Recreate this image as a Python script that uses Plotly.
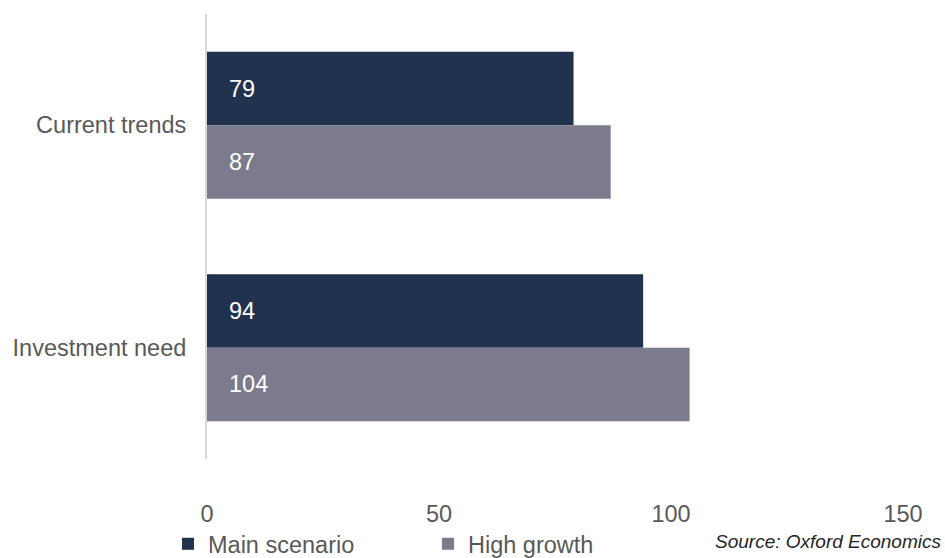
import plotly.graph_objects as go

categories = ["Current trends", "Investment need"]
main_scenario = [79, 94]
high_growth = [87, 104]
x_ticks = [0, 50, 100, 150]

NAVY = "#21324f"
GREY = "#7b7b8d"
TEXT = "#595959"
FONT = "Liberation Sans, Arial, sans-serif"
FS = 23.5

fig = go.Figure()
fig.add_trace(go.Bar(y=categories, x=main_scenario, orientation="h", name="Main scenario",
                     marker=dict(color=NAVY, line=dict(width=0))))
fig.add_trace(go.Bar(y=categories, x=high_growth, orientation="h", name="High growth",
                     marker=dict(color=GREY, line=dict(width=0))))

half = 0.33 / 2
annotations = []
for i, cat in enumerate(categories):
    for val, off in ((main_scenario[i], -half), (high_growth[i], half)):
        annotations.append(dict(x=0, y=i + off, xref="x", yref="y", text=str(val),
                                showarrow=False, xanchor="left", yanchor="middle", xshift=20,
                                font=dict(family=FONT, size=FS, color="white")))
annotations.append(dict(x=(943 - 207) / 696, y=-(541 - 459) / 445, xref="paper", yref="paper",
                        text="<i>Source: Oxford Economics</i>", showarrow=False,
                        xanchor="right", yanchor="middle",
                        font=dict(family=FONT, size=19, color="#262626")))

fig.update_layout(
    width=945, height=558,
    margin=dict(l=207, r=42, t=14, b=99, autoexpand=False),
    paper_bgcolor="white", plot_bgcolor="white",
    barmode="group", bargap=0.34, bargroupgap=0,
    font=dict(family=FONT, size=FS, color=TEXT),
    xaxis=dict(range=[0, 150], tickvals=x_ticks, showgrid=False, zeroline=False,
               showline=False, ticks="", ticklabelstandoff=38,
               tickfont=dict(size=FS, color=TEXT)),
    yaxis=dict(autorange="reversed", showgrid=False, zeroline=False,
               showline=True, linecolor="#d9d9d9", linewidth=2, ticks="",
               ticklabelstandoff=14, tickfont=dict(size=FS, color=TEXT)),
    legend=dict(orientation="h", xref="container", yref="container",
                x=168 / 945, y=(558 - 544) / 558, xanchor="left", yanchor="middle",
                font=dict(size=FS, color=TEXT), entrywidth=215, itemwidth=30,
                traceorder="normal"),
    annotations=annotations,
    showlegend=True,
)

fig.write_html("out.html", config={"displayModeBar": False},
               post_script="document.body.style.margin='0';")
